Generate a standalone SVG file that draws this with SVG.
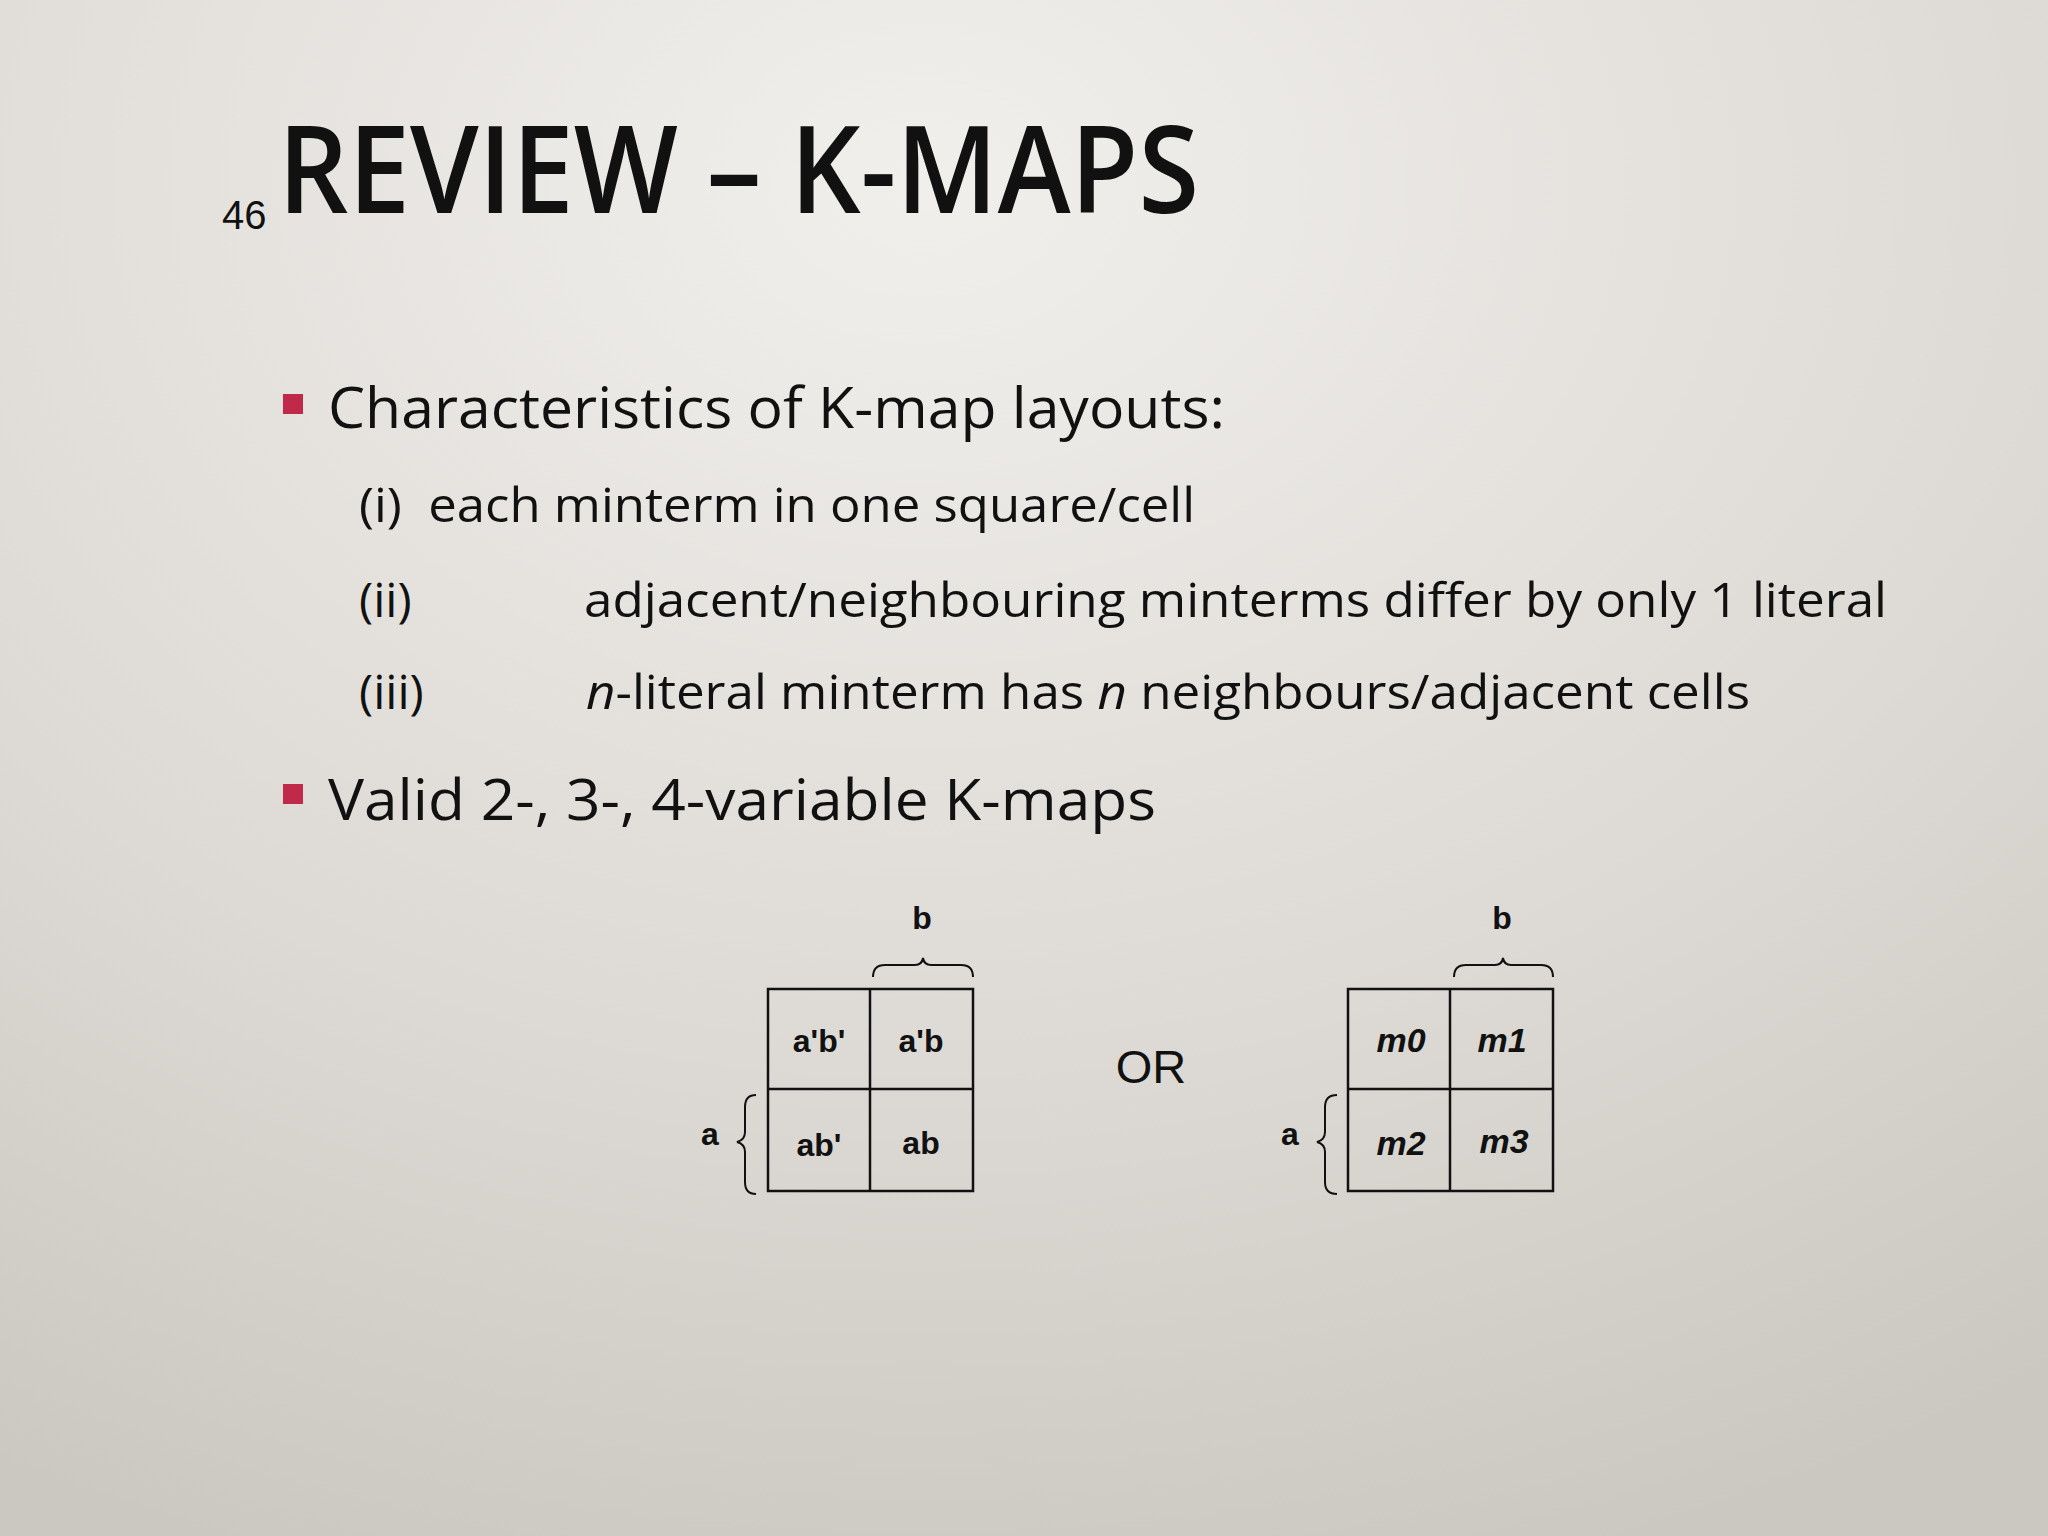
<svg xmlns="http://www.w3.org/2000/svg" width="2048" height="1536" viewBox="0 0 2048 1536">
<defs>
<radialGradient id="bg" cx="0.45" cy="0.12" r="0.95">
<stop offset="0" stop-color="#f1efec"/>
<stop offset="0.6" stop-color="#dddad5"/>
<stop offset="1" stop-color="#cbc8c1"/>
</radialGradient>
</defs>
<style>
.t{font-family:"Open Sans","Noto Sans",sans-serif;fill:#111}
.c{font-family:"Liberation Sans",Arial,sans-serif;font-weight:bold;font-size:32px;text-anchor:middle;fill:#111}
.ci{font-family:"Liberation Sans",Arial,sans-serif;font-weight:bold;font-style:italic;font-size:34px;text-anchor:middle;fill:#111}
.g{fill:none;stroke:#111;stroke-width:2.5}
.br{fill:none;stroke:#111;stroke-width:2}
</style>
<rect width="2048" height="1536" fill="url(#bg)"/>
<text x="222" y="229" font-family="Liberation Sans,Arial,sans-serif" font-size="40" fill="#111">46</text>
<text class="t" x="278" y="213" font-size="122" font-weight="600" textLength="921" lengthAdjust="spacingAndGlyphs">REVIEW – K-MAPS</text>
<rect x="283" y="394" width="20" height="20" fill="#c0294a"/>
<text class="t" x="328" y="428" font-size="57" textLength="897" lengthAdjust="spacingAndGlyphs">Characteristics of K-map layouts:</text>
<text class="t" x="359" y="522" font-size="48" textLength="836" lengthAdjust="spacingAndGlyphs">(i)&#160; each minterm in one square/cell</text>
<text class="t" x="359" y="617" font-size="48">(ii)</text>
<text class="t" x="584" y="617" font-size="48" textLength="1303" lengthAdjust="spacingAndGlyphs">adjacent/neighbouring minterms differ by only 1 literal</text>
<text class="t" x="359" y="709" font-size="48">(iii)</text>
<text class="t" x="586" y="709" font-size="48" textLength="1164" lengthAdjust="spacingAndGlyphs"><tspan font-style="italic">n</tspan>-literal minterm has <tspan font-style="italic">n</tspan> neighbours/adjacent cells</text>
<rect x="283" y="784" width="20" height="20" fill="#c0294a"/>
<text class="t" x="328" y="820" font-size="57" textLength="828" lengthAdjust="spacingAndGlyphs">Valid 2-, 3-, 4-variable K-maps</text>
<g id="kmap1">
<rect class="g" x="768" y="989" width="205" height="202"/>
<line class="g" x1="870" y1="989" x2="870" y2="1191"/>
<line class="g" x1="768" y1="1089" x2="973" y2="1089"/>
<text class="c" x="819" y="1052">a'b'</text>
<text class="c" x="921" y="1052">a'b</text>
<text class="c" x="819" y="1156">ab'</text>
<text class="c" x="921" y="1154">ab</text>
<text class="c" x="922" y="929">b</text>
<path class="br" d="M873,977 Q873,965 885,965 L915,965 Q922,965 923,958 Q924,965 931,965 L961,965 Q973,965 973,977"/>
<text class="c" x="710" y="1145">a</text>
<path class="br" d="M756,1095 Q745,1095 745,1107 L745,1132 Q745,1140 737,1142 Q745,1144 745,1152 L745,1182 Q745,1194 756,1194"/>
</g>
<g id="or"><text x="1151" y="1083" font-family="Liberation Sans,Arial,sans-serif" font-size="47" text-anchor="middle" fill="#111">OR</text></g>
<g id="kmap2">
<rect class="g" x="1348" y="989" width="205" height="202"/>
<line class="g" x1="1450" y1="989" x2="1450" y2="1191"/>
<line class="g" x1="1348" y1="1089" x2="1553" y2="1089"/>
<text class="ci" x="1401" y="1052">m0</text>
<text class="ci" x="1502" y="1052">m1</text>
<text class="ci" x="1401" y="1155">m2</text>
<text class="ci" x="1504" y="1153">m3</text>
<text class="c" x="1502" y="929">b</text>
<path class="br" d="M1454,977 Q1454,965 1466,965 L1495,965 Q1502,965 1503,958 Q1504,965 1511,965 L1541,965 Q1553,965 1553,977"/>
<text class="c" x="1290" y="1145">a</text>
<path class="br" d="M1337,1095 Q1325,1095 1325,1107 L1325,1132 Q1325,1140 1317,1142 Q1325,1144 1325,1152 L1325,1182 Q1325,1194 1337,1194"/>
</g>
</svg>
